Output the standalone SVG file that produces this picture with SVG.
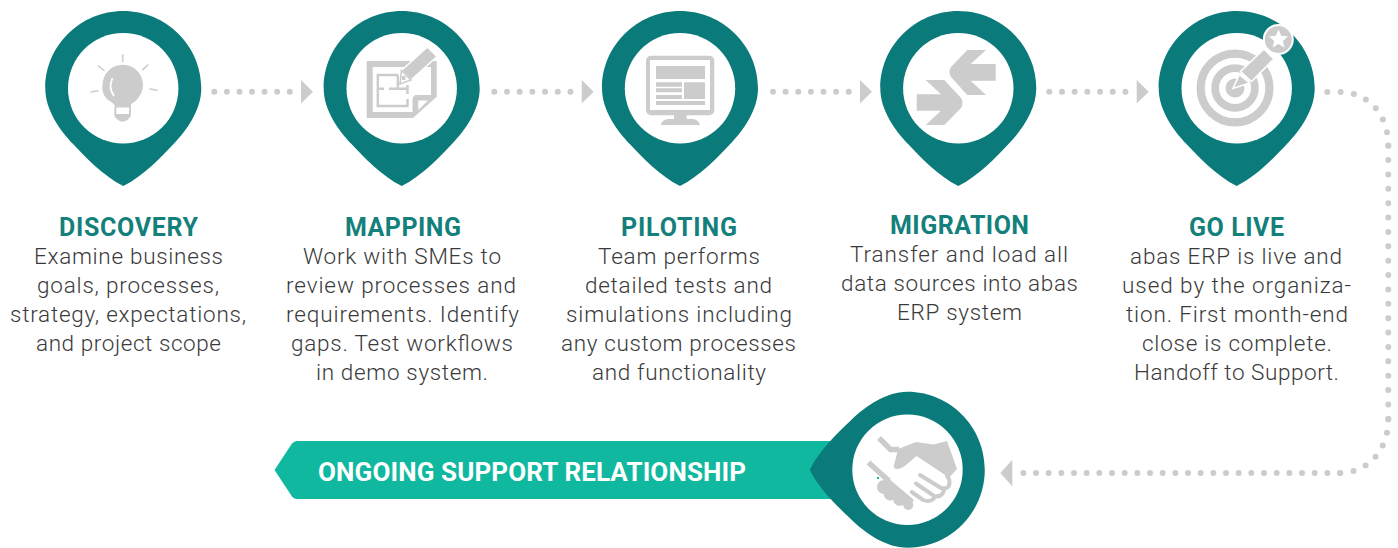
<svg xmlns="http://www.w3.org/2000/svg" xmlns:xlink="http://www.w3.org/1999/xlink" width="1398" height="548" viewBox="0 0 1398 548">
<style>
.pin{fill:#0b7a7a}
.hole{fill:#fff}
.ic{fill:#ccc}
.ln{fill:none;stroke:#ccc;stroke-linecap:round}
.wl{fill:none;stroke:#fff}
.t{font-family:Roboto,"Liberation Sans",sans-serif;font-weight:700;font-size:25px;fill:#14807c;text-anchor:middle}
.b{font-family:Roboto,"Liberation Sans",sans-serif;font-weight:300;font-size:22.5px;fill:#3a3a3a;text-anchor:middle}
.dot{fill:none;stroke:#ccc;stroke-width:6;stroke-linecap:round;stroke-dasharray:0 1}
</style>
<defs>
<path id="pinshape" d="M0,-77.3C43,-77.3 78,-42.5 78,0C78,22 63,42.5 50,56C38,68.5 20,88 0,97.7C-20,88 -38,68.5 -50,56C-63,42.5 -78,22 -78,0C-78,-42.5 -43,-77.3 0,-77.3Z"/>
<marker id="arr" markerUnits="userSpaceOnUse" markerWidth="24" markerHeight="24" refX="0" refY="11.7" orient="auto"><polygon points="11,0 23,11.7 11,23.4" fill="#ccc"/></marker>
<marker id="arr2" markerUnits="userSpaceOnUse" markerWidth="24" markerHeight="28" refX="0" refY="13.35" orient="auto"><polygon points="10.4,0 22.4,13.35 10.4,26.7" fill="#ccc"/></marker>
</defs>

<g id="connectors">
<path class="dot" pathLength="6.02" d="M214.3,91.7H290" marker-end="url(#arr)"/>
<path class="dot" pathLength="6.02" d="M494.3,91.7H570.7" marker-end="url(#arr)"/>
<path class="dot" pathLength="6.02" d="M773,91.7H849" marker-end="url(#arr)"/>
<path class="dot" pathLength="6.02" d="M1049.3,91.7H1125.7" marker-end="url(#arr)"/>
<path class="dot" pathLength="7.02" d="M1327.3,92H1340C1368,92 1388.3,114 1388.3,145.7"/>
<path class="dot" pathLength="19.05" d="M1388.3,145.7V419.5"/>
<path class="dot" pathLength="6.02" d="M1388.3,419.5C1388.3,450 1368,473 1340,473"/>
<path class="dot" pathLength="25.05" d="M1340,473H1022.7" marker-end="url(#arr2)"/>
</g>

<g id="node-discovery">
<use href="#pinshape" class="pin" transform="translate(123.3,88.3)"/>
<circle class="hole" cx="123.2" cy="88.3" r="55.2"/>
<path class="ic" d="M115,107C115,103 110,102 107,99C101,93 102.5,85 102.5,85A20.2,20.2 0 1 1 143,85C143,94 136,102 131,104V107Z"/>
<path class="ic" d="M114.3,107H131V116Q127,121.7 122.7,121.7Q118,121.7 114.3,116Z"/>
<rect x="116.3" y="107.5" width="12.8" height="6.5" fill="#fff"/>
<path class="wl" stroke-width="1.8" d="M112.5,78Q108,88 114,96"/>
<g class="ln" stroke-width="1.6"><path d="M122.7,55V61.5M98.5,66L104,70.5M148,65L142.7,69.7M91,92L98,90.7M150,89L157,90.3"/></g>
<text class="t" x="128.5" y="236" textLength="139">DISCOVERY</text>
<text class="b" x="128.5" y="264" textLength="189">Examine business</text>
<text class="b" x="128" y="293" textLength="182">goals, processes,</text>
<text class="b" x="128" y="322" textLength="236">strategy, expectations,</text>
<text class="b" x="128.5" y="351" textLength="185">and project scope</text>
</g>

<g id="node-mapping">
<use href="#pinshape" class="pin" transform="translate(401.7,88.3)"/>
<circle class="hole" cx="401.7" cy="88.3" r="55.2"/>
<path class="ic" d="M366.7,61H436.7V96.7L413,118H366.7Z"/>
<path fill="#fff" d="M372.7,67H431V95H417Q412.5,95 412.5,100V112H372.7Z"/>
<polygon fill="#fff" points="418.3,110 418.3,100.5 428,100.5"/>
<g fill="none" stroke="#ccc" stroke-width="2.4">
<path d="M398,75H377.8V106H407.5V99M407.5,94V85M397.8,75V88M378,88.7H384M389,88.7H407.5"/>
</g>
<path class="ic" stroke="#fff" stroke-width="1.6" d="M427.3,47L437,56.5L411,80L401.5,70.5Z"/>
<path fill="#fff" stroke="#ccc" stroke-width="1.6" d="M401.5,70.5L411,80L400,84Z"/>
<rect x="402" y="76" width="3.5" height="4" fill="#ccc"/>
<text class="t" x="403" y="236" textLength="116">MAPPING</text>
<text class="b" x="402" y="264" textLength="198">Work with SMEs to</text>
<text class="b" x="401" y="293" textLength="230">review processes and</text>
<text class="b" x="402.5" y="322" textLength="233">requirements. Identify</text>
<text class="b" x="402" y="351" textLength="222">gaps. Test workflows</text>
<text class="b" x="402" y="380" textLength="172">in demo system.</text>
</g>

<g id="node-piloting">
<use href="#pinshape" class="pin" transform="translate(680,88.3)"/>
<circle class="hole" cx="680" cy="88.3" r="55.2"/>
<rect class="ic" x="646" y="55.7" width="68.3" height="59.6" rx="5"/>
<rect x="650" y="60" width="60" height="50" fill="#fff"/>
<path class="ic" d="M656,66H705V79H656ZM656,82.3H682V86.7H656ZM656,88.3H682V92.3H656ZM656,95H682V99H656ZM684,82.3H705V99H684ZM656,101H705V105H656ZM674,115H686.7V119H693Q699,120 700,125H660.7Q662,120 668,119H674Z"/>
<text class="t" x="679" y="236" textLength="116">PILOTING</text>
<text class="b" x="679" y="264" textLength="162">Team performs</text>
<text class="b" x="678.5" y="293" textLength="187">detailed tests and</text>
<text class="b" x="679" y="322" textLength="226">simulations including</text>
<text class="b" x="678.5" y="351" textLength="235">any custom processes</text>
<text class="b" x="679" y="380" textLength="174">and functionality</text>
</g>

<g id="node-migration">
<use href="#pinshape" class="pin" transform="translate(958.3,88.3)"/>
<circle class="hole" cx="958.3" cy="88.3" r="55.2"/>
<path class="ic" d="M967.3,50H986L970.7,64H995.7V80.7H970.7L986,95H967.3L951,77Q948,72 951,67Z"/>
<path class="ic" d="M925.7,80H944.3L961,98Q964,103 961,108L944.3,125H925.7L941,110.7H916.7V94.3H941Z"/>
<text class="t" x="959.5" y="234" textLength="139">MIGRATION</text>
<text class="b" x="959" y="262" textLength="218">Transfer and load all</text>
<text class="b" x="959.5" y="291" textLength="237">data sources into abas</text>
<text class="b" x="959.5" y="320" textLength="125">ERP system</text>
</g>

<g id="node-golive">
<use href="#pinshape" class="pin" transform="translate(1236.7,88.3)"/>
<circle class="hole" cx="1236.7" cy="88.3" r="55.2"/>
<circle cx="1235" cy="88" r="34.4" fill="none" stroke="#ccc" stroke-width="8.2"/>
<circle cx="1235" cy="88" r="19.9" fill="none" stroke="#ccc" stroke-width="7.7"/>
<circle class="ic" cx="1235" cy="88" r="9.5"/>
<path class="ic" stroke="#fff" stroke-width="1.6" d="M1240.5,71.5L1251.5,81.5L1274,59L1264,49Z"/>
<path class="ic" stroke="#fff" stroke-width="1.6" d="M1233,88.5L1239.3,74.5L1249.5,83Z"/>
<circle class="ic" stroke="#fff" stroke-width="2" cx="1278.3" cy="39.5" r="14.5"/>
<polygon fill="#fff" points="1278.5,29.5 1281.2,35.8 1288,36.4 1282.9,40.9 1284.4,47.6 1278.5,44 1272.6,47.6 1274.1,40.9 1269,36.4 1275.8,35.8"/>
<text class="t" x="1236.5" y="236" textLength="95">GO LIVE</text>
<text class="b" x="1236" y="264" textLength="212">abas ERP is live and</text>
<text class="b" x="1236.5" y="293" textLength="229">used by the organiza-</text>
<text class="b" x="1237" y="322" textLength="222">tion. First month-end</text>
<text class="b" x="1237" y="351" textLength="190">close is complete.</text>
<text class="b" x="1236.5" y="380" textLength="205">Handoff to Support.</text>
</g>

<g id="node-support">
<path fill="#10b8a0" d="M274.5,470L292,443.5Q294,441 297,441H845V499H297Q294,499 292,496.5Z"/>
<use href="#pinshape" class="pin" transform="translate(907.5,469.7) rotate(90)"/>
<circle class="hole" cx="907.5" cy="469.7" r="55.2"/>
<path fill="none" stroke="#ccc" stroke-width="5.5" d="M879,438L890.5,449.5H899M868.5,462.5L889,481"/>
<path class="ic" d="M898,449L916,442L933.5,444.5L947,441L957,469L949,477.5L916.5,456L906,465Q901,469 897,469Q893,469 894,465Q896,458 898,449Z"/>
<path class="ln" stroke-width="4" d="M920,475L941,488Q950,490 949.5,481Q949.5,479 947,476"/>
<path class="ln" stroke-width="4" d="M916,483.5L934,496Q942,498 944,490"/>
<path class="ln" stroke-width="4" d="M911.7,492L923,500Q931,503 935,497"/>
<path class="ic" d="M888,478L914,500L908,508L880,490Z"/>
<circle class="ic" cx="884" cy="487" r="7"/>
<circle class="ic" cx="890.5" cy="493.5" r="7"/>
<circle class="ic" cx="899.5" cy="499.5" r="6.3"/>
<circle class="ic" cx="908.3" cy="505" r="5"/>
<rect x="877" y="477" width="2" height="2" fill="#10b8a0"/>
<text x="532" y="480.5" text-anchor="middle" textLength="428" font-family="Roboto,'Liberation Sans',sans-serif" font-weight="700" font-size="26" fill="#fff">ONGOING SUPPORT RELATIONSHIP</text>
</g>
</svg>
